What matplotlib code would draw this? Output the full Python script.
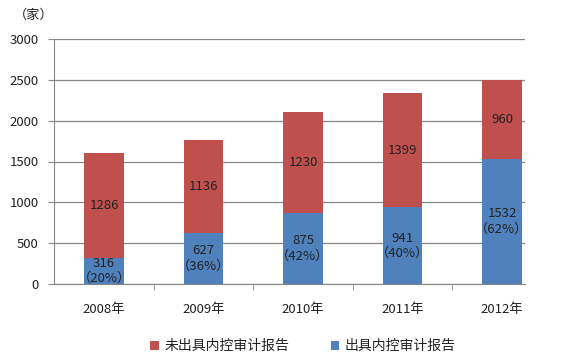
import matplotlib
matplotlib.use("Agg")
import matplotlib.pyplot as plt
import numpy as np

plt.rcParams['font.family'] = ['Noto Sans CJK SC', 'DejaVu Sans']

years = ["2008年", "2009年", "2010年", "2011年", "2012年"]
issued = [316, 627, 875, 941, 1532]
not_issued = [1286, 1136, 1230, 1399, 960]
issued_pct = ["20%", "36%", "42%", "40%", "62%"]
series_names = ["未出具内控审计报告", "出具内控审计报告"]
yticks = [0, 500, 1000, 1500, 2000, 2500, 3000]

red = "#C0504D"
blue = "#4F81BD"
grid_c = "#868686"
txt_c = "#222222"

W, H = 566, 357
fig = plt.figure(figsize=(W / 100, H / 100), dpi=100)
ax = fig.add_axes([54 / W, 1 - 284 / H, (525 - 54) / W, (284 - 39) / H])

x = np.arange(len(years))
bw = 0.40
b1 = ax.bar(x, issued, bw, color=blue, zorder=3, label=series_names[1])
b2 = ax.bar(x, not_issued, bw, bottom=issued, color=red, zorder=3, label=series_names[0])

for i in range(len(years)):
    ax.text(x[i], issued[i] / 2, f"{issued[i]}\n（{issued_pct[i]}）", ha="center", va="center",
            fontsize=9.5, color=txt_c, zorder=4, linespacing=1.2)
    ax.text(x[i], issued[i] + not_issued[i] / 2, f"{not_issued[i]}", ha="center", va="center",
            fontsize=9.5, color=txt_c, zorder=4)

ax.set_xlim(-0.503, 4.231)
ax.set_ylim(0, 3000)
ax.set_yticks(yticks)
ax.set_yticklabels([str(v) for v in yticks], fontsize=9.5, color=txt_c)
ax.yaxis.grid(True, color=grid_c, linewidth=0.9, zorder=0)
ax.set_axisbelow(True)

ax.set_xticks(x)
ax.set_xticklabels(years, fontsize=9.5, color=txt_c)
ax.tick_params(axis="x", which="major", length=0, pad=14)
ax.set_xticks(np.arange(len(years) - 1) + 0.5, minor=True)
ax.tick_params(axis="x", which="minor", length=4, color=grid_c, direction="out")
ax.tick_params(axis="y", length=4, color=grid_c, pad=7)

for s in ["top", "right"]:
    ax.spines[s].set_visible(False)
ax.spines["left"].set_color(grid_c)
ax.spines["bottom"].set_color(grid_c)

fig.text(14 / W, 1 - 15 / H, "（家）", fontsize=9.5, color=txt_c, va="center", ha="left")

leg = fig.legend([b2, b1], series_names, loc="center", bbox_to_anchor=(303 / W, 1 - 346 / H),
                 ncol=2, frameon=False, fontsize=10, handlelength=0.6, handleheight=0.6,
                 columnspacing=3.0, handletextpad=0.4)
for t in leg.get_texts():
    t.set_color(txt_c)

fig.savefig("out.png", dpi=100, facecolor="white")
